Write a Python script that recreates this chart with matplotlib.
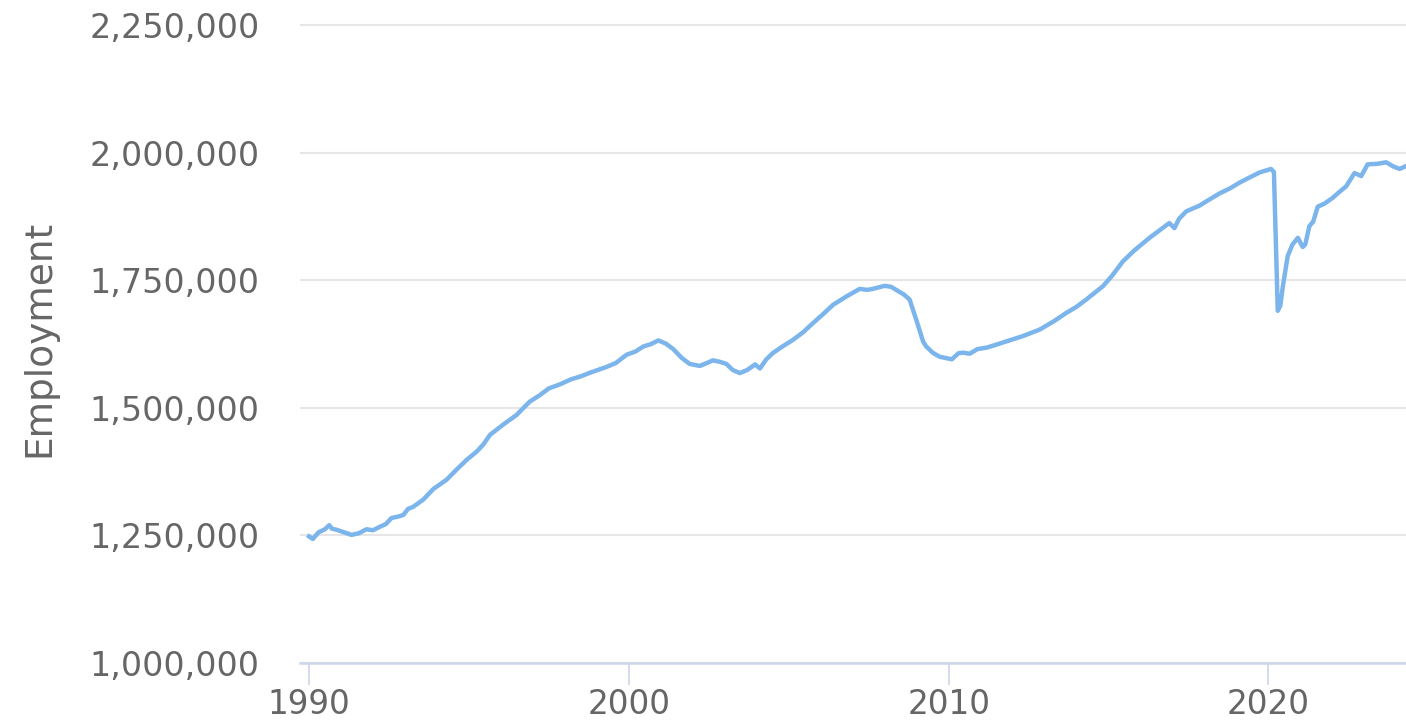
import matplotlib
matplotlib.use('Agg')
import matplotlib.pyplot as plt
from matplotlib.ticker import FuncFormatter

# Datos: empleo (miles), fecha en años decimales
fechas = [1990.00, 1990.12, 1990.30, 1990.50, 1990.63, 1990.72, 1990.86, 1991.05, 1991.33, 1991.55,
          1991.80, 1992.00, 1992.22, 1992.40, 1992.58, 1992.80, 1992.95, 1993.10, 1993.26, 1993.57,
          1993.89, 1994.30, 1994.60, 1994.93, 1995.24, 1995.45, 1995.66, 1996.07, 1996.49, 1996.90,
          1997.20, 1997.50, 1997.85, 1998.20, 1998.47, 1998.80, 1999.30, 1999.60, 1999.93, 2000.20,
          2000.45, 2000.70, 2000.92, 2001.15, 2001.39, 2001.65, 2001.90, 2002.22, 2002.45, 2002.63,
          2002.85, 2003.05, 2003.25, 2003.47, 2003.70, 2003.95, 2004.10, 2004.30, 2004.50, 2004.80,
          2005.13, 2005.45, 2005.76, 2006.10, 2006.39, 2006.80, 2007.22, 2007.45, 2007.63, 2008.00,
          2008.20, 2008.36, 2008.60, 2008.78, 2009.00, 2009.20, 2009.30, 2009.50, 2009.72, 2010.10,
          2010.31, 2010.45, 2010.66, 2010.90, 2011.20, 2011.50, 2011.80, 2012.30, 2012.84, 2013.30,
          2013.68, 2014.00, 2014.30, 2014.82, 2015.10, 2015.45, 2015.80, 2016.28, 2016.60, 2016.90,
          2017.06, 2017.20, 2017.43, 2017.84, 2018.15, 2018.47, 2018.80, 2019.09, 2019.40, 2019.72,
          2020.08, 2020.17, 2020.29, 2020.37, 2020.45, 2020.60, 2020.75, 2020.92, 2021.07, 2021.15,
          2021.28, 2021.40, 2021.54, 2021.75, 2022.00, 2022.20, 2022.43, 2022.69, 2022.90, 2023.10,
          2023.40, 2023.68, 2023.90, 2024.10, 2024.28]
empleo_miles = [1248, 1243, 1256, 1262, 1270, 1263, 1261, 1257, 1251, 1254,
                1262, 1260, 1267, 1272, 1284, 1287, 1290, 1302, 1306, 1320,
                1341, 1359, 1378, 1398, 1414, 1428, 1447, 1467, 1486, 1512,
                1524, 1538, 1546, 1556, 1561, 1569, 1580, 1588, 1604, 1610,
                1620, 1625, 1632, 1626, 1615, 1598, 1586, 1582, 1588, 1593,
                1590, 1586, 1574, 1568, 1574, 1585, 1577, 1595, 1607, 1620,
                1633, 1648, 1666, 1685, 1702, 1718, 1733, 1731, 1733, 1739,
                1737, 1731, 1722, 1712, 1670, 1630, 1620, 1608, 1600, 1595,
                1607, 1608, 1606, 1615, 1618, 1624, 1630, 1640, 1653, 1670,
                1686, 1698, 1712, 1738, 1758, 1787, 1808, 1833, 1848, 1862,
                1852, 1870, 1885, 1896, 1908, 1920, 1930, 1941, 1951, 1961,
                1968, 1962, 1690, 1700, 1738, 1797, 1820, 1833, 1815, 1820,
                1856, 1865, 1894, 1900, 1911, 1922, 1934, 1960, 1954, 1977,
                1978, 1981, 1973, 1968, 1973]
empleo = [v * 1000 for v in empleo_miles]

ticks_y = [1000000, 1250000, 1500000, 1750000, 2000000, 2250000]
ticks_x = [1990, 2000, 2010, 2020]

gris_texto = '#666666'

fig = plt.figure(figsize=(14.06, 7.24), dpi=100)
ax = fig.add_axes([0.2134, 0.0843, 0.7866, 0.9157])

ax.plot(fechas, empleo, color='#7cb5ec', linewidth=3.2, solid_joinstyle='round')

# Ejes
ax.set_xlim(1989.72, 2024.3)
ax.set_ylim(1000000, 2250000 + 25 / 127.5 * 250000)
ax.set_yticks(ticks_y)
ax.set_xticks(ticks_x)
ax.yaxis.set_major_formatter(FuncFormatter(lambda v, p: f'{int(v):,}'))

ax.grid(axis='y', color='#e6e6e6', linewidth=1.5)
ax.set_axisbelow(True)
for lado in ['top', 'right', 'left']:
    ax.spines[lado].set_visible(False)
ax.spines['bottom'].set_color('#ccd6eb')
ax.spines['bottom'].set_linewidth(1.8)

ax.tick_params(axis='y', length=0, pad=29, labelsize=24, labelcolor=gris_texto)
ax.tick_params(axis='x', length=16, width=1.2, color='#ccd6eb', pad=2,
               labelsize=23.5, labelcolor=gris_texto)

ax.set_ylabel('Employment', fontsize=27, color=gris_texto)
ax.yaxis.set_label_coords(-0.2197, 0.49)

plt.savefig('out.png', dpi=100)
